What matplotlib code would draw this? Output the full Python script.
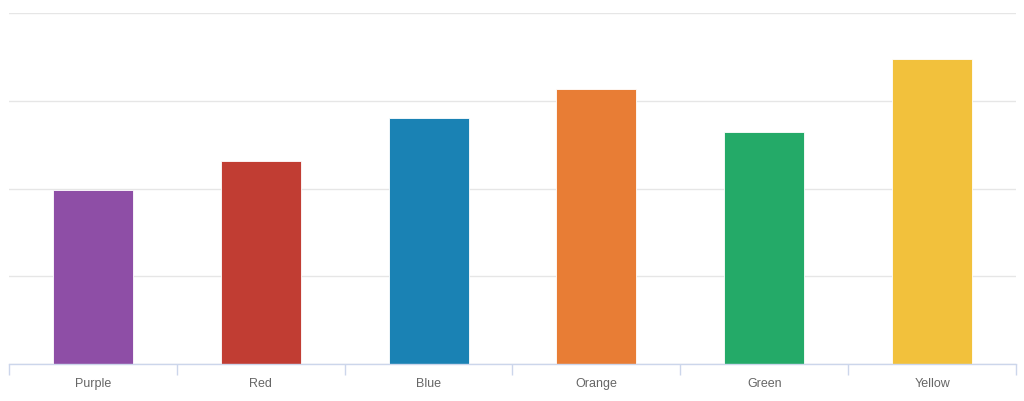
import matplotlib
matplotlib.use("Agg")
import matplotlib.pyplot as plt

# --- Data ------------------------------------------------------------------
categories = ["Purple", "Red", "Blue", "Orange", "Green", "Yellow"]
values = [9.9, 11.6, 14.05, 15.7, 13.25, 17.4]
colors = ["#8e4ea6", "#c13d33", "#1a82b4", "#e87d35", "#24aa68", "#f2c13c"]

# --- Plot ------------------------------------------------------------------
fig = plt.figure(figsize=(10.24, 4.02), dpi=100)
ax = fig.add_axes([9 / 1024, 37.2 / 402, 1007 / 1024, 350.5 / 402])

x = list(range(len(categories)))
ax.bar(x, values, width=0.476, color=colors, edgecolor="white", linewidth=0.6, zorder=3)

ax.set_xlim(-0.5, len(categories) - 0.5)
ax.set_ylim(0, 20)
ax.set_yticks([0, 5, 10, 15, 20])
ax.yaxis.grid(True, color="#e6e6e6", linewidth=1, zorder=0)
ax.tick_params(axis="y", left=False, labelleft=False)

# category labels centred, tick marks on the category boundaries
ax.set_xticks(x)
ax.set_xticklabels(categories, fontsize=9, color="#666666", family="Liberation Sans")
ax.tick_params(axis="x", length=0, pad=9.5)
ax.set_xticks([i - 0.5 for i in range(len(categories) + 1)], minor=True)
ax.tick_params(axis="x", which="minor", length=8, width=1, color="#ccd6eb")

for side in ["top", "right", "left"]:
    ax.spines[side].set_visible(False)
ax.spines["bottom"].set_color("#ccd6eb")
ax.spines["bottom"].set_linewidth(1)
ax.spines["bottom"].set_zorder(4)

fig.savefig("out.png", dpi=100, facecolor="white")
